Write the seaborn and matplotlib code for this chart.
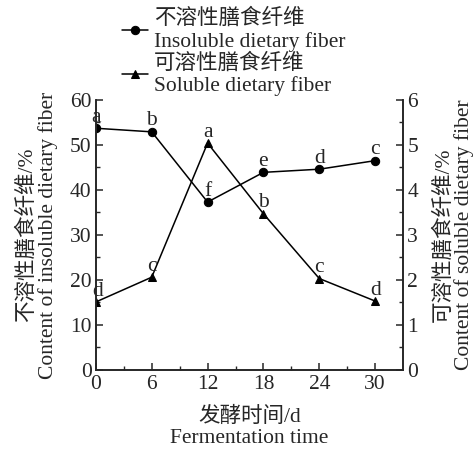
import pandas as pd
import matplotlib.pyplot as plt
import seaborn as sns

days = [0, 6, 12, 18, 24, 30]
insoluble = [53.7, 52.9, 37.3, 43.9, 44.6, 46.5]
soluble = [1.51, 2.06, 5.04, 3.47, 2.03, 1.53]
insoluble_sig = ['a', 'b', 'f', 'e', 'd', 'c']
soluble_sig = ['d', 'c', 'a', 'b', 'c', 'd']

df = pd.DataFrame({'day': days, 'insoluble': insoluble, 'soluble': soluble})

sns.set_style("ticks")
plt.rcParams['font.family'] = ['Liberation Serif', 'Noto Sans CJK SC']
plt.rcParams['font.size'] = 15.5
plt.rcParams['xtick.direction'] = 'in'
plt.rcParams['ytick.direction'] = 'in'

fig = plt.figure(figsize=(4.77, 4.5), dpi=100)
ax = fig.add_axes([0.201, 0.178, 0.644, 0.6])
ax2 = ax.twinx()

sns.lineplot(data=df, x='day', y='insoluble', ax=ax, color='black', marker='o',
             markersize=6, markeredgecolor='black', linewidth=1.1,
             label='不溶性膳食纤维\nInsoluble dietary fiber', legend=False)
sns.lineplot(data=df, x='day', y='soluble', ax=ax2, color='black', marker='^',
             markersize=6, markeredgecolor='black', linewidth=1.1,
             label='可溶性膳食纤维\nSoluble dietary fiber', legend=False)

# significance letters
for x, y, s in zip(days, insoluble, insoluble_sig):
    ax.annotate(s, (x, y), xytext=(0, 1), textcoords='offset points',
                ha='center', va='bottom', fontsize=15.5)
for x, y, s in zip(days, soluble, soluble_sig):
    ax2.annotate(s, (x, y), xytext=(1 if x == 0 else 0, 1), textcoords='offset points',
                 ha='center', va='bottom', fontsize=15.5)

ax.set_xlim(0, 33)
ax.set_ylim(0, 60)
ax2.set_ylim(0, 6)
ax.set_xticks(days)
ax.set_xticks([3, 9, 15, 21, 27], minor=True)
ax.set_yticks(range(0, 61, 10))
ax.set_yticks(range(5, 60, 10), minor=True)
ax2.set_yticks(range(0, 7))
ax2.set_yticks([0.5, 1.5, 2.5, 3.5, 4.5, 5.5], minor=True)

for a in (ax, ax2):
    a.spines['top'].set_visible(False)
    for s in ['left', 'right', 'bottom']:
        a.spines[s].set_linewidth(1.2)
    a.tick_params(which='major', length=5, width=1.1, labelsize=15.5, pad=3)
    a.tick_params(which='minor', length=3, width=1.0)
ax.tick_params(axis='x', pad=4)

ax.set_xlabel('发酵时间/d\nFermentation time', fontsize=15.5, labelpad=9, linespacing=1.15)
ax.set_ylabel('不溶性膳食纤维/%\nContent of insoluble dietary fiber', fontsize=15.5,
              labelpad=9, linespacing=1.05)
ax2.set_ylabel('可溶性膳食纤维/%\nContent of soluble dietary fiber', fontsize=15.5,
               labelpad=11, linespacing=1.05)

h1, l1 = ax.get_legend_handles_labels()
h2, l2 = ax2.get_legend_handles_labels()
fig.legend(h1 + h2, l1 + l2, loc='upper center', bbox_to_anchor=(0.49, 1.01),
           frameon=False, fontsize=15.5, handlelength=1.2, handletextpad=0.3,
           labelspacing=0.05, borderaxespad=0.2)

plt.savefig('out.png', dpi=100)
